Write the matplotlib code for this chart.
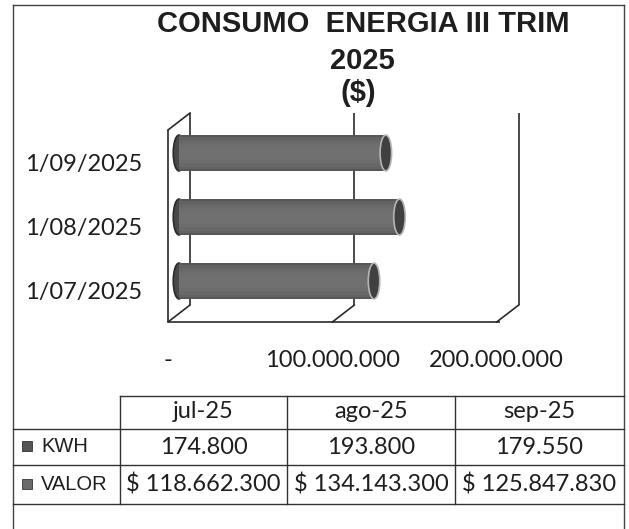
import matplotlib
matplotlib.use("Agg")
import numpy as np
import matplotlib.pyplot as plt
from matplotlib.patches import Ellipse
from matplotlib.transforms import offset_copy

# data
dates = ["1/07/2025", "1/08/2025", "1/09/2025"]
months = ["jul-25", "ago-25", "sep-25"]
kwh = [174800, 193800, 179550]
valor = [118662300, 134143300, 125847830]
x_ticks = [0, 100000000, 200000000]
x_ticklabels = ["-", "100.000.000", "200.000.000"]

W, H = 629, 529
LABEL_FONT = ["Lato", "DejaVu Sans"]
TITLE_FONT = ["Liberation Sans", "DejaVu Sans"]
INK = "#1e1e1e"


def fx(x):
    return x / W


def fy(y):
    return 1 - y / H


def dots(n):
    return f"{n:,}".replace(",", ".")


#############################################################################################

fig = plt.figure(figsize=(W / 100, H / 100), dpi=100)
fig.patch.set_facecolor("white")

# outer frame
for xs, ys in [([13, 13], [5, 529]), ([13, 624], [5, 5]), ([624, 624], [5, 529])]:
    fig.add_artist(plt.Line2D([fx(v) for v in xs], [fy(v) for v in ys],
                              color="#444444", lw=1.0))

# title
for yy, xx, txt in [(24, 363, "CONSUMO  ENERGIA III TRIM"), (61, 362, "2025"), (93, 358, "($)")]:
    fig.text(fx(xx), fy(yy), txt, ha="center", va="center",
             fontsize=21, fontweight="bold", family=TITLE_FONT, color=INK)

#############################################################################################
# front plane of the 3D bar chart

ax = fig.add_axes([fx(168), fy(322), fx(500) - fx(168), fy(130) - fy(322)])
ax.set_xlim(0, 202000000)
ax.set_ylim(-0.5, 2.5)
ax.patch.set_alpha(0)
for s in ax.spines.values():
    s.set_visible(False)

back = offset_copy(ax.transData, fig=fig, x=22, y=17, units="dots")
mid = offset_copy(ax.transData, fig=fig, x=11, y=9, units="dots")

LINE = "#2a2a2a"
lk = dict(color=LINE, lw=1.2, clip_on=False, solid_capstyle="butt")


def diag(t, y):
    p0 = ax.transData.transform((t, y))
    p1 = back.transform((t, y))
    fig.add_artist(plt.Line2D([p0[0] / W, p1[0] / W], [p0[1] / H, p1[1] / H],
                              color=LINE, lw=1.2))


for t in x_ticks:
    ax.plot([t, t], [-0.5, 2.5], transform=back, **lk)
    diag(t, -0.5)
diag(0, 2.5)
ax.plot([0, 0], [-0.5, 2.5], **lk)
ax.plot([0, 202000000], [-0.5, -0.5], **lk)

# cylinder bars
ypos = np.arange(len(dates))
bar_h = 0.56
n_strips = 16
edges = np.linspace(-bar_h / 2, bar_h / 2, n_strips + 1)
cap_w = 7000000
for y, v in zip(ypos, valor):
    ax.add_patch(Ellipse((0, y), cap_w, bar_h, transform=mid,
                         facecolor="#4a4a4a", edgecolor="#2a2a2a", lw=1.2, zorder=3))
    for i in range(n_strips):
        c = 0.5 * (edges[i] + edges[i + 1]) / (bar_h / 2)
        g = 0.2 + 0.24 * np.sqrt(max(0.0, 1 - c * c)) ** 0.5
        ax.barh(y + 0.5 * (edges[i] + edges[i + 1]), v, height=edges[1] - edges[0] + 0.002,
                left=0, color=(g, g, g), lw=0, transform=mid, zorder=4)
    ax.add_patch(Ellipse((v, y), cap_w, bar_h, transform=mid,
                         facecolor="#404040", edgecolor="#b5b5b5", lw=1.2, zorder=5))

ax.set_yticks(ypos)
ax.set_yticklabels(dates, family=LABEL_FONT, fontsize=17, color=INK)
ax.set_xticks(x_ticks)
ax.set_xticklabels(x_ticklabels, family=LABEL_FONT, fontsize=17, color=INK)
ax.tick_params(axis="y", length=0, pad=18.5)
ax.tick_params(axis="x", length=0, pad=20)

#############################################################################################
# data table

rows = [396, 429, 465, 504]
cols = [13, 120, 287, 455, 624]
tk = dict(color="#333333", lw=1.0)
fig.add_artist(plt.Line2D([fx(120), fx(624)], [fy(rows[0])] * 2, **tk))
for r in rows[1:]:
    fig.add_artist(plt.Line2D([fx(13), fx(624)], [fy(r)] * 2, **tk))
for c in cols[1:4]:
    fig.add_artist(plt.Line2D([fx(c)] * 2, [fy(rows[0]), fy(rows[3])], **tk))

centers = [(cols[i] + cols[i + 1]) / 2 for i in range(1, 4)]
for cx, m, k, v in zip(centers, months, kwh, valor):
    fig.text(fx(cx), fy(412), m, ha="center", va="center",
             family=LABEL_FONT, fontsize=17, color=INK)
    fig.text(fx(cx), fy(447), dots(k), ha="center", va="center",
             family=LABEL_FONT, fontsize=17, color=INK)
    fig.text(fx(cx), fy(485), "$ " + dots(v), ha="center", va="center",
             family=LABEL_FONT, fontsize=17, color=INK)

for yy, lab, col in [(446, "KWH", "#555555"), (484, "VALOR", "#6a6a6a")]:
    fig.add_artist(plt.Rectangle((fx(22), fy(yy + 5)), 10 / W, 10 / H,
                                 facecolor=col, edgecolor="#333333", lw=0.6))
    fig.text(fx(41), fy(yy), lab, ha="left", va="center",
             family=TITLE_FONT, fontsize=14.5, color=INK)

fig.savefig("out.png", dpi=100, facecolor="white")
